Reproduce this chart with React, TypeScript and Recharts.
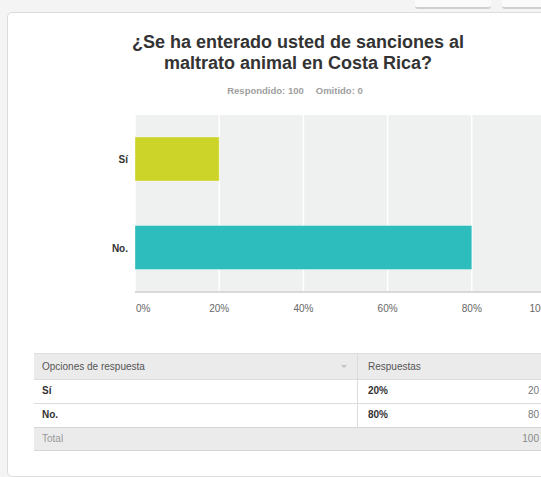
import React from "react";
import { BarChart, Bar, XAxis, YAxis, CartesianGrid, Cell } from "recharts";

const categories = ["Sí", "No."];
const percentages = [20, 80];
const counts = [20, 80];
const barColors = ["#ccd42a", "#2ebdbd"];
const xTicks = [0, 20, 40, 60, 80, 100];
const titleLines = ["¿Se ha enterado usted de sanciones al", "maltrato animal en Costa Rica?"];
const answered = 100;
const skipped = 0;

const data = categories.map((name, i) => ({ name, value: percentages[i] }));

const FONT = "'Liberation Sans', Arial, sans-serif";

const XTick = (props: any) => {
  const { x, y, payload } = props;
  const first = payload.value === xTicks[0];
  const last = payload.value === xTicks[xTicks.length - 1];
  return (
    <text
      x={first ? x + 1 : last ? x - 1 : x}
      y={y}
      dy={8}
      textAnchor={first ? "start" : last ? "end" : "middle"}
      fontSize={10}
      fontFamily={FONT}
      fill="#666"
    >
      {payload.value + "%"}
    </text>
  );
};

const YTick = (props: any) => {
  const { x, y, payload } = props;
  return (
    <text
      x={x - 1}
      y={y}
      dy={4}
      textAnchor="end"
      fontSize={10}
      fontWeight="bold"
      fontFamily={FONT}
      fill="#333"
    >
      {payload.value}
    </text>
  );
};

const cellBase: React.CSSProperties = {
  position: "absolute",
  fontSize: 10,
  fontFamily: FONT,
  lineHeight: "24px",
};

export default function App() {
  const rowTop = [379, 403];
  return (
    <div
      style={{
        position: "absolute",
        left: 0,
        top: 0,
        width: 541,
        height: 477,
        overflow: "hidden",
        background: "#f4f4f4",
        fontFamily: FONT,
      }}
    >
      {/* top buttons */}
      <div style={{ position: "absolute", left: 415, top: -10, width: 76, height: 17, background: "#fafafa", borderBottom: "2px solid #d0d0d0", borderRadius: 3 }} />
      <div style={{ position: "absolute", left: 502, top: -10, width: 60, height: 17, background: "#fafafa", borderBottom: "2px solid #d0d0d0", borderRadius: 3 }} />
      {/* card */}
      <div
        style={{
          position: "absolute",
          left: 7,
          top: 12,
          width: 600,
          height: 463,
          background: "#fff",
          border: "1px solid #dcdcdc",
          borderRadius: 5,
        }}
      />
      {/* title */}
      <div
        style={{
          position: "absolute",
          left: 98,
          width: 400,
          top: 32,
          textAlign: "center",
          fontSize: 18,
          fontWeight: "bold",
          color: "#333",
          lineHeight: "21px",
        }}
      >
        {titleLines.map((l, i) => (
          <div key={i}>{l}</div>
        ))}
      </div>
      <div
        style={{
          position: "absolute",
          left: 95,
          width: 400,
          top: 84,
          textAlign: "center",
          fontSize: 9.5,
          fontWeight: "bold",
          color: "#a0a0a0",
          lineHeight: "14px",
        }}
      >
        <span>Respondido: {answered}</span>
        <span style={{ marginLeft: 12 }}>Omitido: {skipped}</span>
      </div>
      {/* chart */}
      <div style={{ position: "absolute", left: 0, top: 0 }}>
        <BarChart
          width={580}
          height={330}
          layout="vertical"
          data={data}
          margin={{ top: 115, right: 24, bottom: 8, left: 0 }}
        >
          <CartesianGrid horizontal={false} vertical stroke="#ffffff" strokeWidth={1.5} fill="#eff0f0" />
          <XAxis
            type="number"
            domain={[0, 100]}
            ticks={xTicks}
            axisLine={{ stroke: "#d9d9d9", strokeWidth: 2 }}
            tickLine={false}
            tickMargin={6}
            height={30}
            tick={<XTick />}
            interval={0}
          />
          <YAxis
            type="category"
            dataKey="name"
            width={135}
            axisLine={false}
            tickLine={false}
            tickMargin={0}
            tick={<YTick />}
          />
          <Bar dataKey="value" barSize={44} isAnimationActive={false} strokeWidth={1}>
            {data.map((d, i) => (
              <Cell key={d.name} fill={barColors[i]} stroke="rgba(255,255,255,0.35)" />
            ))}
          </Bar>
        </BarChart>
      </div>
      {/* table */}
      <div style={{ position: "absolute", left: 34, top: 353, width: 560, height: 98 }}>
        <div style={{ position: "absolute", left: 0, top: 0, width: 560, height: 26, background: "#ebebeb", borderTop: "1px solid #dedede", boxSizing: "border-box" }} />
        <div style={{ ...cellBase, left: 8, top: 1, color: "#555", lineHeight: "25px" }}>Opciones de respuesta</div>
        <div style={{ position: "absolute", left: 307, top: 12, width: 0, height: 0, borderLeft: "3px solid transparent", borderRight: "3px solid transparent", borderTop: "3px solid #c4c4c4" }} />
        <div style={{ ...cellBase, left: 334, top: 1, color: "#555", lineHeight: "25px" }}>Respuestas</div>
        {categories.map((c, i) => (
          <React.Fragment key={c}>
            <div style={{ position: "absolute", left: 0, top: rowTop[i] - 353, width: 560, height: 24, borderTop: "1px solid #dcdcdc", boxSizing: "border-box", background: "#fff" }} />
            <div style={{ ...cellBase, left: 8, top: rowTop[i] - 353, color: "#333", fontWeight: "bold" }}>{c}</div>
            <div style={{ ...cellBase, left: 334, top: rowTop[i] - 353, color: "#333", fontWeight: "bold" }}>{percentages[i] + "%"}</div>
            <div style={{ ...cellBase, left: 440, width: 65, textAlign: "right", top: rowTop[i] - 353, color: "#777" }}>{counts[i]}</div>
          </React.Fragment>
        ))}
        <div style={{ position: "absolute", left: 323, top: 0, width: 1, height: 74, background: "#dcdcdc" }} />
        <div style={{ position: "absolute", left: 0, top: 74, width: 560, height: 24, background: "#ebebeb", borderTop: "1px solid #d6d6d6", borderBottom: "1px solid #d6d6d6", boxSizing: "border-box" }} />
        <div style={{ ...cellBase, left: 8, top: 74, color: "#999" }}>Total</div>
        <div style={{ ...cellBase, left: 440, width: 65, textAlign: "right", top: 74, color: "#888" }}>{counts.reduce((a, b) => a + b, 0)}</div>
      </div>
    </div>
  );
}
